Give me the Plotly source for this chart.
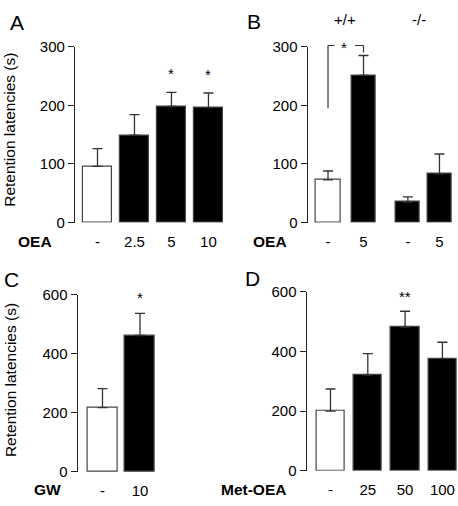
import plotly.graph_objects as go

# ---------------- data ----------------
A_labels = ["-", "2.5", "5", "10"]
A_means = [96, 149, 198, 196]
A_err = [30, 35, 24, 25]
A_sig = ["", "", "*", "*"]

B_labels = ["-", "5", "-", "5"]
B_means = [73, 251, 35, 83]
B_err = [15, 34, 9, 34]
B_groups = ["+/+", "-/-"]

C_labels = ["-", "10"]
C_means = [218, 462]
C_err = [64, 75]
C_sig = ["", "*"]

D_labels = ["-", "25", "50", "100"]
D_means = [200, 321, 482, 376]
D_err = [74, 72, 53, 55]
D_sig = ["", "", "**", ""]

# ---------------- layout constants ----------------
W, H = 458, 506
FONT = "Arial, Liberation Sans, sans-serif"
AX = "#222"
B_pos = [0, 1, 2.25, 3.14]


def px_x(p):
    return p / W


def px_y(p):
    return 1 - p / H


panels = [
    dict(ax="", labels=A_labels, means=A_means, err=A_err, pos=list(range(4)),
         xd=(75, 224), yd=(221, 39), xr=[-0.608, 3.42], yr=[0, 300], dt=100, bw=0.76, drug="OEA", dx=34.5, ly=241),
    dict(ax="2", labels=B_labels, means=B_means, err=B_err, pos=B_pos,
         xd=(307.7, 458), yd=(221, 39), xr=[-0.572, 3.662], yr=[0, 300], dt=100, bw=0.69, drug="OEA", dx=270, ly=241),
    dict(ax="3", labels=C_labels, means=C_means, err=C_err, pos=list(range(2)),
         xd=(77.7, 230), yd=(479, 295.7), xr=[-0.661, 3.40], yr=[0, 600], dt=200, bw=0.79, drug="GW", dx=47.5, ly=497),
    dict(ax="4", labels=D_labels, means=D_means, err=D_err, pos=list(range(4)),
         xd=(306.7, 458), yd=(477.7, 292.7), xr=[-0.638, 3.418], yr=[0, 600], dt=200, bw=0.76, drug="Met-OEA", dx=254, ly=497),
]

fig = go.Figure()
annotations = []
shapes = []

for p in panels:
    n = len(p["means"])
    fills = ["white"] + ["black"] * (n - 1)
    fig.add_trace(go.Bar(
        x=p["pos"], y=p["means"], width=p["bw"],
        marker=dict(color=fills, line=dict(color="#444", width=1.2)),
        error_y=dict(type="data", symmetric=False, array=p["err"],
                     arrayminus=[0] * n, color="#333", thickness=1.3, width=5),
        xaxis="x" + p["ax"], yaxis="y" + p["ax"], showlegend=False,
    ))
    xk = "xaxis" + p["ax"]
    yk = "yaxis" + p["ax"]
    fig.layout[xk] = dict(
        domain=[px_x(p["xd"][0]), px_x(p["xd"][1])], range=p["xr"],
        anchor="y" + p["ax"], tickvals=p["pos"], ticktext=p["labels"],
        showline=False, showgrid=False, zeroline=False,
        ticks="outside", ticklen=5, tickcolor="rgba(0,0,0,0)",
        tickfont=dict(family=FONT, size=15, color="black"), fixedrange=True,
    )
    fig.layout[yk] = dict(
        domain=[px_y(p["yd"][0]), px_y(p["yd"][1])], range=p["yr"],
        anchor="x" + p["ax"], dtick=p["dt"], tick0=0,
        showline=True, linecolor=AX, linewidth=1.3,
        ticks="outside", ticklen=6, tickwidth=1.3, tickcolor=AX,
        showgrid=False, zeroline=False,
        tickfont=dict(family=FONT, size=15, color="black"), fixedrange=True,
    )
    annotations.append(dict(
        text="<b>%s</b>" % p["drug"], xref="paper", yref="paper",
        x=px_x(p["dx"]), y=px_y(p["ly"]), xanchor="center", yanchor="middle",
        showarrow=False, font=dict(family=FONT, size=15.5, color="black"),
    ))

# significance stars
for ax, sig, pos, means, err, ys in [("", A_sig, range(4), A_means, A_err, 8),
                                     ("3", C_sig, range(2), C_means, C_err, 5.5),
                                     ("4", D_sig, range(4), D_means, D_err, 4)]:
    for s, xp, m, e in zip(sig, pos, means, err):
        if s:
            annotations.append(dict(
                text=s, x=xp, y=m + e, xref="x" + ax, yref="y" + ax,
                xanchor="center", yanchor="bottom", yshift=ys, showarrow=False,
                font=dict(family=FONT, size=15, color="black"),
            ))

# bracket in panel B
yb = 302 / 300
shapes += [
    dict(type="line", xref="x2", yref="y2 domain", x0=0, x1=0, y0=195 / 300, y1=yb),
    dict(type="line", xref="x2", yref="y2 domain", x0=0, x1=0.18, y0=yb, y1=yb),
    dict(type="line", xref="x2", yref="y2 domain", x0=0.76, x1=1, y0=yb, y1=yb),
    dict(type="line", xref="x2", yref="y2 domain", x0=1, x1=1, y0=yb, y1=290 / 300),
]
for s in shapes:
    s["line"] = dict(color="#333", width=1.2)
annotations.append(dict(text="*", x=0.45, xref="x2", y=yb, yref="y2 domain",
                        xanchor="center", yanchor="middle", yshift=-2, showarrow=False,
                        font=dict(family=FONT, size=15, color="black")))

# genotype group labels
for g, gx in zip(B_groups, [0.48, 2.55]):
    annotations.append(dict(text=g, x=gx, xref="x2", y=px_y(10.5), yref="paper",
                            xanchor="center", yanchor="middle", showarrow=False,
                            font=dict(family=FONT, size=15, color="black")))

# panel letters
for letter, lx, ly in [("A", 17, 14), ("B", 254, 13), ("C", 11, 280), ("D", 252.5, 279)]:
    annotations.append(dict(text=letter, x=px_x(lx), y=px_y(ly), xref="paper", yref="paper",
                            xanchor="center", yanchor="middle", showarrow=False,
                            font=dict(family=FONT, size=21, color="black")))

# y-axis titles
for ty in [125, 384]:
    annotations.append(dict(text="Retention latencies (s)", x=px_x(10), y=px_y(ty),
                            xref="paper", yref="paper", textangle=-90,
                            xanchor="center", yanchor="middle", showarrow=False,
                            font=dict(family=FONT, size=15.5, color="black")))

fig.update_layout(
    width=W, height=H, margin=dict(l=0, r=0, t=0, b=0),
    paper_bgcolor="white", plot_bgcolor="white",
    annotations=annotations, shapes=shapes, bargap=0,
)

fig.write_html(
    "out.html",
    config={"displayModeBar": False},
    post_script="document.body.style.margin='0';document.body.style.padding='0';"
                "document.body.style.overflow='hidden';",
)
